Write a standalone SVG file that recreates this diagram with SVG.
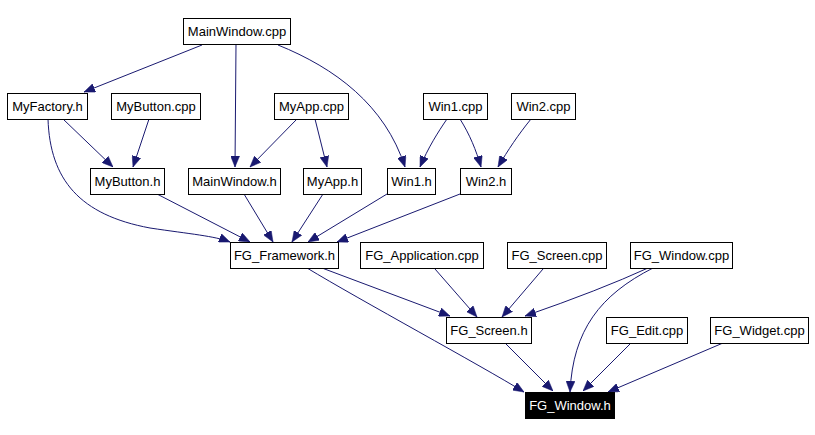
<svg xmlns="http://www.w3.org/2000/svg" width="815" height="435" viewBox="0 0 815 435">
<style>
.n rect{fill:#ffffff;stroke:#000000;stroke-width:1}
.n text{font-family:"Liberation Sans",Arial,sans-serif;font-size:13px;fill:#000000;text-anchor:middle}
#FG_Window_h rect{fill:#000000}
#FG_Window_h text{fill:#ffffff}
.e path{fill:none;stroke:#191970;stroke-width:1;marker-end:url(#ah)}
</style>
<defs>
<marker id="ah" viewBox="0 0 11 9" markerWidth="11" markerHeight="9" refX="11" refY="4.5" orient="auto" markerUnits="userSpaceOnUse">
<path d="M0,0 L11,4.5 L0,9 z" fill="#191970" stroke="#191970" stroke-width="0.5"/>
</marker>
</defs>
<rect width="815" height="435" fill="#ffffff"/>
<g id="edges" class="e">
<path d="M202,45 L84,92"/>
<path d="M236,44 L235,167"/>
<path d="M278,45 C335,68 385,105 405,167"/>
<path d="M63,119 L113,167"/>
<path d="M149,119 L133,167"/>
<path d="M297,119 L250,167"/>
<path d="M315,119 L327,167"/>
<path d="M447,119 C438,132 428,148 420,167"/>
<path d="M460,119 C470,135 476,150 481,167"/>
<path d="M531,119 C518,135 508,150 498,167"/>
<path d="M48,119 C50,180 80,215 150,228 C190,234 215,236 230,242"/>
<path d="M157,194 L250,242"/>
<path d="M244,194 L273,242"/>
<path d="M323,194 L292,242"/>
<path d="M387,194 L308,242"/>
<path d="M460,194 L337,242"/>
<path d="M322,268 L450,316"/>
<path d="M307,268 C360,300 480,365 524,392"/>
<path d="M435,269 L477,317"/>
<path d="M543,269 L502,317"/>
<path d="M648,268 Q600,290 525,316"/>
<path d="M653,268 C600,295 573,330 570,392"/>
<path d="M505,343 L553,391"/>
<path d="M631,343 L583,391"/>
<path d="M723,343 L608,392"/>
</g>
<g id="MainWindow_cpp" class="n"><rect x="183.5" y="18.5" width="107" height="26"/><text x="237" y="36">MainWindow.cpp</text></g>
<g id="MyFactory_h" class="n"><rect x="7.5" y="93.5" width="80" height="26"/><text x="47.5" y="111">MyFactory.h</text></g>
<g id="MyButton_cpp" class="n"><rect x="111.5" y="93.5" width="89" height="26"/><text x="156" y="111">MyButton.cpp</text></g>
<g id="MyApp_cpp" class="n"><rect x="274.5" y="93.5" width="74" height="26"/><text x="311.5" y="111">MyApp.cpp</text></g>
<g id="Win1_cpp" class="n"><rect x="423.5" y="93.5" width="64" height="26"/><text x="455.5" y="111">Win1.cpp</text></g>
<g id="Win2_cpp" class="n"><rect x="511.5" y="93.5" width="64" height="26"/><text x="543.5" y="111">Win2.cpp</text></g>
<g id="MyButton_h" class="n"><rect x="90.5" y="168.5" width="74" height="26"/><text x="127.5" y="186">MyButton.h</text></g>
<g id="MainWindow_h" class="n"><rect x="188.5" y="168.5" width="92" height="26"/><text x="234.5" y="186">MainWindow.h</text></g>
<g id="MyApp_h" class="n"><rect x="303.5" y="168.5" width="58" height="26"/><text x="332.5" y="186">MyApp.h</text></g>
<g id="Win1_h" class="n"><rect x="387.5" y="168.5" width="48" height="26"/><text x="411.5" y="186">Win1.h</text></g>
<g id="Win2_h" class="n"><rect x="460.5" y="168.5" width="51" height="26"/><text x="486" y="186">Win2.h</text></g>
<g id="FG_Framework_h" class="n"><rect x="230.5" y="242.5" width="108" height="26"/><text x="284.5" y="260">FG_Framework.h</text></g>
<g id="FG_Application_cpp" class="n"><rect x="360.5" y="242.5" width="123" height="26"/><text x="422" y="260">FG_Application.cpp</text></g>
<g id="FG_Screen_cpp" class="n"><rect x="507.5" y="242.5" width="99" height="26"/><text x="557" y="260">FG_Screen.cpp</text></g>
<g id="FG_Window_cpp" class="n"><rect x="630.5" y="242.5" width="102" height="26"/><text x="681.5" y="260">FG_Window.cpp</text></g>
<g id="FG_Screen_h" class="n"><rect x="446.5" y="317.5" width="85" height="26"/><text x="489" y="335">FG_Screen.h</text></g>
<g id="FG_Edit_cpp" class="n"><rect x="606.5" y="317.5" width="81" height="26"/><text x="647" y="335">FG_Edit.cpp</text></g>
<g id="FG_Widget_cpp" class="n"><rect x="710.5" y="317.5" width="98" height="26"/><text x="759.5" y="335">FG_Widget.cpp</text></g>
<g id="FG_Window_h" class="n"><rect x="525.5" y="392.5" width="89" height="26"/><text x="570" y="410">FG_Window.h</text></g>
</svg>
